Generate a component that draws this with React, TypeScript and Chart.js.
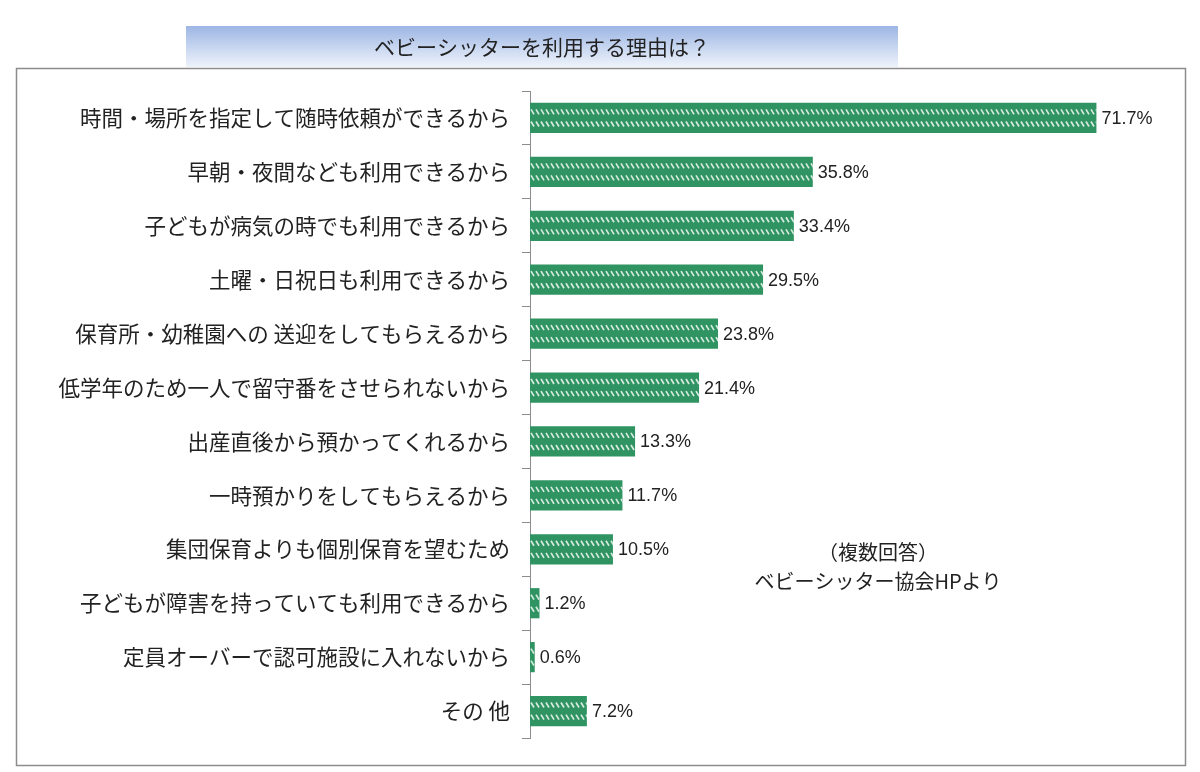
import React, { useEffect, useRef } from "react";
import { Chart, registerables } from "chart.js";

Chart.register(...registerables);

const title = "ベビーシッターを利用する理由は？";
const reasons = [
  "時間・場所を指定して随時依頼ができるから",
  "早朝・夜間なども利用できるから",
  "子どもが病気の時でも利用できるから",
  "土曜・日祝日も利用できるから",
  "保育所・幼稚園への 送迎をしてもらえるから",
  "低学年のため一人で留守番をさせられないから",
  "出産直後から預かってくれるから",
  "一時預かりをしてもらえるから",
  "集団保育よりも個別保育を望むため",
  "子どもが障害を持っていても利用できるから",
  "定員オーバーで認可施設に入れないから",
  "その 他",
];
const shares = [71.7, 35.8, 33.4, 29.5, 23.8, 21.4, 13.3, 11.7, 10.5, 1.2, 0.6, 7.2];
const noteLines = ["（複数回答）", "ベビーシッター協会HPより"];

const JP_FONT = '"Noto Sans CJK JP", "Noto Sans", sans-serif';
const BAR_GREEN = "#2f9462";

// Frame, title banner and note text drawn around the chart area.
const framePlugin = {
  id: "frame",
  beforeDraw(chart: any) {
    const ctx = chart.ctx as CanvasRenderingContext2D;
    ctx.save();
    ctx.fillStyle = "#ffffff";
    ctx.fillRect(0, 0, chart.width, chart.height);

    ctx.strokeStyle = "#8c8c8c";
    ctx.lineWidth = 1.5;
    ctx.strokeRect(16.5, 68.5, 1169, 697);

    const g = ctx.createLinearGradient(0, 26, 0, 67);
    g.addColorStop(0, "#9db6e4");
    g.addColorStop(1, "#eef3fb");
    ctx.fillStyle = g;
    ctx.fillRect(186, 26, 712, 41);
    ctx.fillStyle = "#222";
    ctx.font = `21px ${JP_FONT}`;
    ctx.textAlign = "center";
    ctx.textBaseline = "middle";
    ctx.fillText(title, 542, 47);
    ctx.restore();
  },
  afterDraw(chart: any) {
    const ctx = chart.ctx as CanvasRenderingContext2D;
    ctx.save();
    ctx.fillStyle = "#222";
    ctx.font = `20px ${JP_FONT}`;
    ctx.textAlign = "center";
    ctx.textBaseline = "middle";
    ctx.fillText(noteLines[0], 878, 552);
    ctx.fillText(noteLines[1], 878, 581);
    ctx.restore();
  },
};

// White diagonal dashes on each bar, plus the percentage labels.
const barDecorPlugin = {
  id: "barDecor",
  afterDatasetsDraw(chart: any) {
    const ctx = chart.ctx as CanvasRenderingContext2D;
    const meta = chart.getDatasetMeta(0);
    const values = chart.data.datasets[0].data as number[];
    meta.data.forEach((bar: any, i: number) => {
      const { x, y, base, height } = bar.getProps(["x", "y", "base", "height"], true);
      const top = y - height / 2;
      ctx.save();
      ctx.beginPath();
      ctx.rect(base, top, x - base, height);
      ctx.clip();
      ctx.strokeStyle = "rgba(255,255,255,0.8)";
      ctx.lineWidth = 1.7;
      [0.3, 0.7].forEach((f) => {
        const yc = top + height * f;
        ctx.beginPath();
        for (let sx = base + 1; sx < x; sx += 5) {
          ctx.moveTo(sx, yc - 2.5);
          ctx.lineTo(sx + 3, yc + 2.5);
        }
        ctx.stroke();
      });
      ctx.restore();

      ctx.save();
      ctx.fillStyle = "#222";
      ctx.font = '18px "Liberation Sans", Arial, sans-serif';
      ctx.textAlign = "left";
      ctx.textBaseline = "middle";
      ctx.fillText(`${values[i].toFixed(1)}%`, x + 5, y + 1);
      ctx.restore();
    });
  },
};

export default function App() {
  const canvasRef = useRef<HTMLCanvasElement>(null);

  useEffect(() => {
    document.body.style.margin = "0";
    const canvas = canvasRef.current;
    if (!canvas) return;
    const chart = new Chart(canvas, {
      type: "bar",
      data: {
        labels: reasons,
        datasets: [
          {
            data: shares,
            backgroundColor: BAR_GREEN,
            borderWidth: 0,
            categoryPercentage: 1,
            barPercentage: 0.56,
          },
        ],
      },
      options: {
        indexAxis: "y",
        animation: false,
        responsive: false,
        maintainAspectRatio: false,
        layout: { padding: { top: 91, bottom: 34, right: 38, left: 0 } },
        plugins: {
          legend: { display: false },
          tooltip: { enabled: false },
          title: { display: false },
        },
        scales: {
          x: {
            display: false,
            min: 0,
            max: 80,
          },
          y: {
            afterFit(scale: any) {
              scale.width = 530;
            },
            grid: {
              display: true,
              drawOnChartArea: false,
              drawTicks: true,
              tickLength: 8,
              color: "#8c8c8c",
              offset: true,
            },
            border: { display: true, color: "#8c8c8c", width: 1 },
            ticks: {
              padding: 12,
              color: "#222",
              font: { family: JP_FONT, size: 21.5 },
              autoSkip: false,
            },
          },
        },
      },
      plugins: [framePlugin, barDecorPlugin],
    });
    return () => chart.destroy();
  }, []);

  return <canvas ref={canvasRef} width={1200} height={772} style={{ display: "block" }} />;
}
